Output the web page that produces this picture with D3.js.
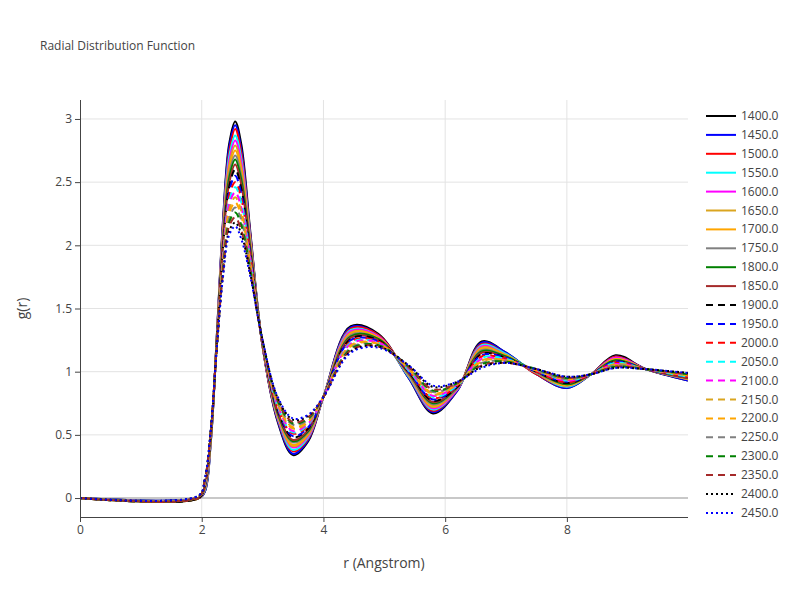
<!DOCTYPE html>
<html><head><meta charset="utf-8">
<script src="https://cdn.jsdelivr.net/npm/d3@7"></script>
<style>body{margin:0;background:#fff;font-family:"Open Sans",sans-serif}</style>
</head><body><svg id="c" width="800" height="600"></svg>
<script>
const temps = ["1400.0","1450.0","1500.0","1550.0","1600.0","1650.0","1700.0","1750.0","1800.0","1850.0","1900.0","1950.0","2000.0","2050.0","2100.0","2150.0","2200.0","2250.0","2300.0","2350.0","2400.0","2450.0"];
const colors = ["black","blue","red","cyan","magenta","goldenrod","orange","gray","green","brown","black","blue","red","cyan","magenta","goldenrod","orange","gray","green","brown","black","blue"];
const dashes = ["solid","solid","solid","solid","solid","solid","solid","solid","solid","solid","dash","dash","dash","dash","dash","dash","dash","dash","dash","dash","dot","dot"];
const rPoints = [0,1.95,2.05,2.15,2.25,2.35,2.45,2.55,2.65,2.8,3.0,3.25,3.5,3.75,4.0,4.45,4.9,5.4,5.8,6.2,6.6,7.0,7.5,8.0,8.4,8.8,9.3,9.99];
// g(r) at each r point, one value per temperature (1400 .. 2450)
const gByPoint = [
[0,0,0,0,0,0,0,0,0,0,0,0,0,0,0,0,0,0,0,0,0,0],
[0,0,0,0,0,0,0,0,0,0,0,.01,.01,.01,.01,.01,.01,.01,.01,.01,.02,.02],
[.05,.05,.06,.06,.07,.07,.08,.08,.09,.09,.10,.10,.11,.11,.12,.12,.13,.13,.14,.14,.15,.15],
[.45,.45,.46,.46,.47,.47,.48,.48,.49,.49,.50,.50,.51,.51,.52,.52,.53,.53,.54,.54,.55,.55],
[1.30,1.30,1.29,1.29,1.28,1.28,1.27,1.27,1.26,1.26,1.25,1.25,1.24,1.24,1.23,1.23,1.22,1.22,1.21,1.21,1.20,1.20],
[2.20,2.18,2.16,2.14,2.12,2.09,2.07,2.05,2.03,2.01,1.98,1.96,1.94,1.92,1.90,1.88,1.86,1.84,1.81,1.79,1.77,1.75],
[2.80,2.77,2.73,2.70,2.66,2.63,2.59,2.56,2.53,2.49,2.46,2.42,2.39,2.35,2.32,2.28,2.25,2.21,2.18,2.15,2.11,2.08],
[2.98,2.95,2.92,2.87,2.83,2.79,2.75,2.71,2.68,2.64,2.60,2.55,2.50,2.46,2.42,2.38,2.34,2.30,2.26,2.22,2.18,2.15],
[2.80,2.76,2.73,2.69,2.66,2.62,2.59,2.55,2.52,2.48,2.45,2.41,2.37,2.34,2.30,2.27,2.23,2.20,2.16,2.12,2.09,2.05],
[2.10,2.08,2.07,2.05,2.03,2.02,2.00,1.98,1.97,1.95,1.93,1.92,1.90,1.88,1.87,1.85,1.83,1.82,1.80,1.78,1.77,1.75],
[1.20,1.20,1.20,1.21,1.21,1.21,1.21,1.22,1.22,1.22,1.22,1.23,1.23,1.23,1.23,1.24,1.24,1.24,1.24,1.24,1.25,1.25],
[.60,.61,.62,.63,.64,.65,.65,.66,.67,.68,.69,.70,.71,.72,.73,.74,.75,.76,.77,.78,.79,.80],
[.34,.35,.37,.38,.40,.41,.42,.44,.45,.46,.48,.49,.51,.52,.53,.55,.56,.58,.59,.60,.62,.63],
[.45,.46,.47,.48,.49,.50,.51,.52,.53,.54,.55,.56,.57,.58,.59,.60,.61,.62,.63,.64,.65,.66],
[.80,.80,.80,.80,.80,.80,.80,.80,.80,.80,.80,.80,.80,.80,.80,.80,.80,.80,.80,.80,.80,.80],
[1.36,1.35,1.34,1.33,1.32,1.31,1.30,1.29,1.28,1.27,1.26,1.25,1.24,1.23,1.22,1.21,1.20,1.19,1.18,1.17,1.16,1.15],
[1.30,1.29,1.29,1.28,1.28,1.27,1.27,1.26,1.26,1.25,1.25,1.24,1.24,1.23,1.23,1.22,1.22,1.21,1.21,1.20,1.20,1.19],
[.95,.95,.96,.96,.97,.97,.98,.98,.99,.99,1.00,1.00,1.01,1.01,1.02,1.02,1.03,1.03,1.04,1.04,1.05,1.05],
[.67,.68,.69,.70,.71,.72,.73,.74,.75,.76,.77,.78,.79,.80,.81,.82,.83,.84,.85,.86,.88,.89],
[.85,.85,.86,.86,.86,.87,.87,.87,.88,.88,.88,.89,.89,.89,.90,.90,.90,.91,.91,.91,.92,.92],
[1.24,1.23,1.22,1.21,1.20,1.19,1.18,1.17,1.16,1.15,1.14,1.13,1.12,1.11,1.10,1.09,1.08,1.07,1.06,1.05,1.04,1.03],
[1.15,1.15,1.14,1.14,1.13,1.13,1.13,1.12,1.12,1.11,1.11,1.11,1.10,1.10,1.09,1.09,1.09,1.08,1.08,1.07,1.07,1.07],
[.98,.98,.98,.99,.99,.99,.99,.99,1.00,1.00,1.00,1.00,1.00,1.01,1.01,1.01,1.01,1.01,1.02,1.02,1.02,1.02],
[.87,.87,.88,.88,.89,.89,.89,.90,.90,.91,.91,.92,.92,.93,.93,.94,.94,.94,.95,.95,.96,.96],
[.98,.98,.98,.98,.98,.98,.98,.98,.98,.98,.98,.98,.98,.98,.98,.98,.98,.98,.98,.98,.98,.98],
[1.13,1.12,1.12,1.11,1.11,1.10,1.10,1.09,1.09,1.08,1.08,1.08,1.07,1.07,1.06,1.06,1.05,1.05,1.04,1.04,1.03,1.03],
[1.02,1.02,1.02,1.02,1.02,1.02,1.02,1.02,1.02,1.02,1.02,1.02,1.02,1.02,1.02,1.02,1.02,1.02,1.02,1.02,1.02,1.02],
[.93,.93,.94,.94,.94,.94,.95,.95,.95,.95,.96,.96,.96,.96,.97,.97,.97,.98,.98,.98,.99,.99]
];
const xTicks = [0,2,4,6,8];
const yTicks = [0,0.5,1,1.5,2,2.5,3];

const svg = d3.select("#c");
const L=80,R=688,T=100,B=517;
const x = d3.scaleLinear().domain([0,9.99]).range([L,R]);
const y = d3.scaleLinear().domain([-0.15,3.15]).range([B,T]);
const txt="#444";
const g = svg.append("g");
g.selectAll(".gx").data(xTicks.filter(d=>d>0)).join("line").attr("x1",d=>x(d)).attr("x2",d=>x(d)).attr("y1",T).attr("y2",B).attr("stroke","#e3e3e3");
g.selectAll(".gy").data(yTicks).join("line").attr("x1",L).attr("x2",R).attr("y1",d=>y(d)).attr("y2",d=>y(d)).attr("stroke",d=>d===0?"#c8c8c8":"#e3e3e3").attr("stroke-width",d=>d===0?2:1);

const line = d3.line().x(d=>x(d[0])).y(d=>y(d[1])).curve(d3.curveCatmullRom.alpha(0.5));
const dashArr = {solid:null,dash:"7,5",dot:"2,3"};
svg.append("clipPath").attr("id","cp").append("rect").attr("x",L).attr("y",T).attr("width",R-L).attr("height",B-T);
const plot = svg.append("g").attr("clip-path","url(#cp)");
temps.forEach((t,i)=>{
  const pts = rPoints.map((r,k)=>[r,gByPoint[k][i]]);
  plot.append("path").datum(pts).attr("d",line).attr("fill","none").attr("stroke",colors[i]).attr("stroke-width",2).attr("stroke-dasharray",dashArr[dashes[i]]);
});

const xa = svg.append("g").attr("transform",`translate(0,${B})`).call(d3.axisBottom(x).tickValues(xTicks).tickSize(5).tickFormat(d3.format("d")));
const ya = svg.append("g").attr("transform",`translate(${L},0)`).call(d3.axisLeft(y).tickValues(yTicks).tickSize(5).tickFormat(d=>String(d)));
[xa,ya].forEach(a=>{a.selectAll("text").attr("fill",txt).style("font-size","12px").style("font-family","Open Sans");a.selectAll("line,path").attr("stroke","#444");});
xa.select(".domain").attr("d",`M${L},0.5H${R}`);
ya.select(".domain").attr("d",`M0.5,${T}V${B}`);

svg.append("text").attr("x",40).attr("y",50).text("Radial Distribution Function").attr("fill",txt).style("font-size","12px");
svg.append("text").attr("x",(L+R)/2).attr("y",568).attr("text-anchor","middle").text("r (Angstrom)").attr("fill",txt).style("font-size","14px");
svg.append("text").attr("transform",`translate(27,${(T+B)/2}) rotate(-90)`).attr("text-anchor","middle").text("g(r)").attr("fill",txt).style("font-size","14px");

const lg = svg.append("g");
temps.forEach((t,i)=>{
  const yy = 116 + i*18.9;
  lg.append("line").attr("x1",706).attr("x2",736).attr("y1",yy).attr("y2",yy).attr("stroke",colors[i]).attr("stroke-width",2).attr("stroke-dasharray",dashArr[dashes[i]]);
  lg.append("text").attr("x",741).attr("y",yy+4).text(t).attr("fill",txt).style("font-size","12px");
});
</script></body></html>
